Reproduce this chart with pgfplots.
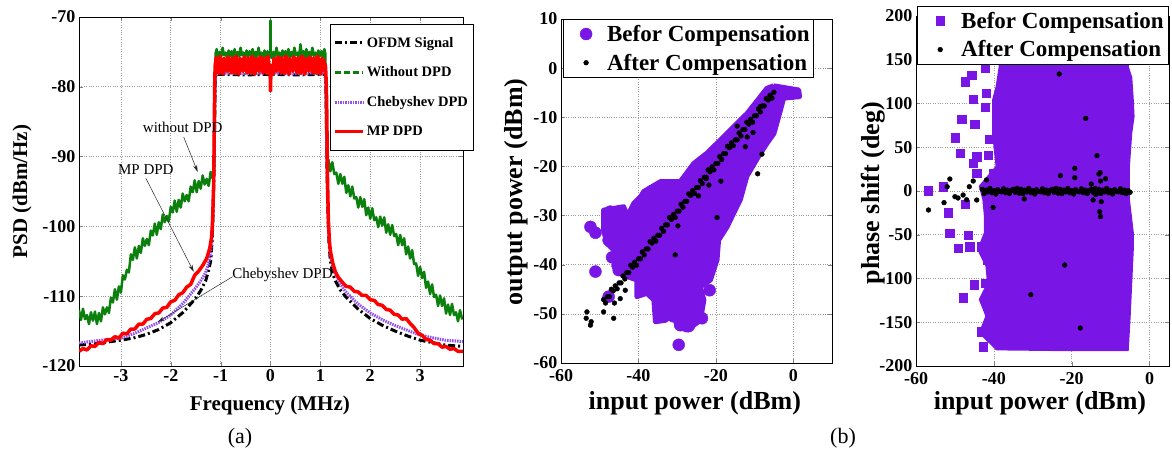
\documentclass[border=0pt]{standalone}
\usepackage{fontspec}
\setmainfont{Liberation Serif}
\usepackage{pgfplots}
\pgfplotsset{compat=1.18}
\usetikzlibrary{arrows.meta}

\definecolor{mgreen}{RGB}{12,128,12}
\definecolor{cheb}{RGB}{145,80,240}
\definecolor{scpurple}{RGB}{121,22,230}

\pgfplotsset{
  myaxis/.style={
    scale only axis,
    grid=major,
    major grid style={dotted, gray!80, line width=0.7pt},
    tick align=inside,
    major tick length=4pt,
    axis line style={line width=0.7pt},
    /pgf/number format/assume math mode=true,
    ticklabel style={font=\fontsize{18}{18}\selectfont\bfseries},
    legend cell align=left,
  },
  scatlegend/.style={
    legend style={font=\fontsize{23}{23}\selectfont\bfseries, row sep=7pt,
      inner xsep=2pt, inner ysep=4pt, draw=black},
    xticklabel style={yshift=-3pt},
  },
  legmark/.style={
    legend image code/.code={\path[draw=none,fill=none] (0pt,0pt) -- (40pt,0pt);
      \draw[##1] plot coordinates {(21pt,0pt)};},
  },
}

\begin{document}
\begin{tikzpicture}
\path[use as bounding box] (0,0) rectangle (1172pt,454pt);

% ---------------- (a) PSD ----------------
\begin{axis}[myaxis,
    at={(79pt,88pt)}, anchor=south west,
    width=384pt, height=349pt,
    xmin=-3.84, xmax=3.86, ymin=-120, ymax=-70,
    xtick={-3,-2,-1,0,1,2,3},
    ytick={-120,-110,-100,-90,-80,-70},
    xlabel={Frequency (MHz)}, ylabel={PSD (dBm/Hz)},
    xlabel style={font=\fontsize{21}{21}\selectfont\bfseries, at={(rel axis cs:0.497,-0.112)}, anchor=center},
    ylabel style={font=\fontsize{21}{21}\selectfont\bfseries, at={(rel axis cs:-0.148,0.5)}, anchor=center},
    legend style={at={(rel axis cs:0.654,0.98)}, anchor=north west,
      font=\fontsize{14.5}{14.5}\selectfont\bfseries, row sep=14pt,
      inner xsep=3pt, inner ysep=11pt, draw=black},
    legend image code/.code={\draw[#1] (0pt,0pt) -- (28pt,0pt);},
  ]
\addplot[black, line width=3pt, dash pattern=on 7pt off 3pt on 2pt off 3pt] coordinates {
(-3.84,-117.0) (-3.5,-116.8) (-3.0,-116.3) (-2.75,-116.0) (-2.5,-115.5) (-2.25,-114.8)
(-2.0,-113.8) (-1.75,-112.3) (-1.5,-110.3) (-1.4,-109.2) (-1.3,-107.8) (-1.25,-106.5)
(-1.2,-105) (-1.17,-102) (-1.15,-98) (-1.13,-91) (-1.12,-85) (-1.11,-80) (-1.10,-78.2)
(-0.5,-78.3) (0,-78.2) (0.5,-78.3) (1.10,-78.2) (1.11,-80) (1.12,-85) (1.13,-91)
(1.15,-98) (1.17,-102) (1.2,-105) (1.25,-106.8) (1.3,-107.8) (1.4,-109.1) (1.5,-110.0)
(1.75,-111.8) (2.0,-113.2) (2.25,-114.2) (2.5,-115.0) (2.75,-115.7) (3.0,-116.3)
(3.5,-117.0) (3.86,-117.2)
};
\addlegendentry{OFDM Signal}
\addplot[mgreen, line width=2.5pt, line join=round, forget plot] coordinates {
(-3.84,-112.0) (-3.80,-113.4) (-3.76,-111.8) (-3.72,-113.3) (-3.68,-112.7) (-3.64,-114.0)
(-3.60,-112.3) (-3.56,-113.5) (-3.52,-112.2) (-3.48,-114.0) (-3.44,-112.4) (-3.40,-113.6)
(-3.36,-111.6) (-3.32,-112.6) (-3.28,-111.6) (-3.24,-112.4) (-3.20,-110.2) (-3.16,-110.9)
(-3.12,-109.0) (-3.08,-110.5) (-3.04,-108.6) (-3.00,-109.5) (-2.96,-107.0) (-2.92,-107.6)
(-2.88,-106.2) (-2.84,-106.6) (-2.80,-104.0) (-2.76,-104.8) (-2.72,-103.0) (-2.68,-104.6)
(-2.64,-102.8) (-2.60,-103.8) (-2.56,-101.7) (-2.52,-102.8) (-2.48,-101.8) (-2.44,-102.7)
(-2.40,-100.6) (-2.36,-101.3) (-2.32,-99.6) (-2.28,-101.2) (-2.24,-99.4) (-2.20,-100.4)
(-2.16,-98.3) (-2.12,-99.4) (-2.08,-98.5) (-2.04,-99.3) (-2.00,-97.2) (-1.96,-98.0)
(-1.92,-96.3) (-1.88,-97.9) (-1.84,-96.2) (-1.80,-97.3) (-1.76,-95.3) (-1.72,-96.4)
(-1.68,-95.5) (-1.64,-96.4) (-1.60,-94.3) (-1.56,-95.1) (-1.52,-93.4) (-1.48,-95.1)
(-1.44,-93.5) (-1.40,-94.6) (-1.36,-92.7) (-1.32,-94.0) (-1.28,-93.2) (-1.24,-94.2)
(-1.20,-92.2) (-1.16,-93.1) (-1.13,-92.6) (-1.12,-86) (-1.11,-78) (-1.10,-75.2)
(-1.08,-74.6) (-1.05,-75.9) (-1.02,-75.0) (-0.99,-75.7) (-0.96,-74.4) (-0.93,-75.5)
(-0.90,-75.1) (-0.87,-76.0) (-0.84,-74.8) (-0.81,-75.6) (-0.78,-74.9) (-0.75,-75.8)
(-0.72,-74.6) (-0.69,-75.9) (-0.66,-75.0) (-0.63,-75.7) (-0.60,-74.4) (-0.57,-75.5)
(-0.54,-75.1) (-0.51,-76.0) (-0.48,-74.8) (-0.45,-75.6) (-0.42,-74.9) (-0.39,-75.8)
(-0.36,-74.6) (-0.33,-75.9) (-0.30,-75.0) (-0.27,-75.7) (-0.24,-74.4) (-0.21,-75.5)
(-0.18,-75.1) (-0.15,-76.0) (-0.12,-74.8) (-0.09,-75.6) (-0.06,-74.9) (-0.03,-75.8)
(-0.005,-75.3) (0,-70.5) (0.005,-75.3)
(0.03,-75.9) (0.06,-75.0) (0.09,-75.7) (0.12,-74.4) (0.15,-75.5) (0.18,-75.1)
(0.21,-76.0) (0.24,-74.8) (0.27,-75.6) (0.30,-74.9) (0.33,-75.8) (0.36,-74.6)
(0.39,-75.9) (0.42,-75.0) (0.45,-75.7) (0.48,-74.4) (0.51,-75.5) (0.54,-75.1)
(0.57,-76.0) (0.60,-73.9) (0.63,-75.6) (0.66,-74.9) (0.69,-75.8) (0.72,-74.6)
(0.75,-75.9) (0.78,-75.0) (0.81,-75.7) (0.84,-74.4) (0.87,-75.5) (0.90,-75.1)
(0.93,-76.0) (0.96,-74.8) (0.99,-75.6) (1.02,-74.9) (1.05,-75.8) (1.08,-74.6)
(1.10,-75.3) (1.11,-80) (1.12,-88) (1.13,-90.4)
(1.16,-90.4) (1.20,-92.1) (1.24,-90.8) (1.28,-92.5) (1.32,-92.3) (1.36,-93.9)
(1.40,-92.5) (1.44,-93.9) (1.48,-92.9) (1.52,-95.2) (1.56,-94.1) (1.60,-95.7)
(1.64,-94.3) (1.68,-96.0) (1.72,-95.8) (1.76,-97.3) (1.80,-95.8) (1.84,-97.2)
(1.88,-96.1) (1.92,-98.4) (1.96,-97.3) (2.00,-98.9) (2.04,-97.4) (2.08,-99.1)
(2.12,-98.7) (2.16,-100.1) (2.20,-98.6) (2.24,-99.9) (2.28,-98.7) (2.32,-100.9)
(2.36,-99.7) (2.40,-101.2) (2.44,-99.8) (2.48,-101.4) (2.52,-101.1) (2.56,-102.7)
(2.60,-101.2) (2.64,-102.7) (2.68,-101.7) (2.72,-104.0) (2.76,-102.9) (2.80,-104.6)
(2.84,-103.4) (2.88,-105.4) (2.92,-105.3) (2.96,-107.1) (3.00,-105.8) (3.04,-107.4)
(3.08,-106.5) (3.12,-108.8) (3.16,-107.9) (3.20,-109.7) (3.24,-108.3) (3.28,-110.1)
(3.32,-109.8) (3.36,-111.4) (3.40,-109.9) (3.44,-111.4) (3.48,-110.3) (3.52,-112.5)
(3.56,-111.2) (3.60,-112.7) (3.64,-111.1) (3.68,-112.7) (3.72,-112.3) (3.76,-113.6)
(3.80,-112.0) (3.84,-113.2) (3.86,-113.0)
};
\addlegendimage{mgreen, line width=2.5pt, dash pattern=on 6pt off 3pt}
\addlegendentry{Without DPD}
\addplot[cheb, line width=3pt, dash pattern=on 1.5pt off 1pt] coordinates {
(-3.84,-116.7) (-3.5,-116.4) (-3.0,-116.0) (-2.75,-115.4) (-2.5,-114.6) (-2.25,-113.8)
(-2.0,-112.7) (-1.75,-111.0) (-1.5,-108.8) (-1.4,-107.8) (-1.3,-106.6) (-1.25,-105.5)
(-1.2,-104) (-1.17,-101) (-1.15,-97) (-1.13,-90) (-1.12,-84) (-1.11,-79.5) (-1.10,-78.0)
(-0.5,-78.1) (0,-78.0) (0.5,-78.1) (1.10,-78.0) (1.11,-79.5) (1.12,-84) (1.13,-90)
(1.15,-97) (1.17,-101) (1.2,-104) (1.25,-105.7) (1.3,-106.8) (1.4,-108.2) (1.5,-109.3)
(1.75,-111.1) (2.0,-112.4) (2.25,-113.4) (2.5,-114.2) (2.75,-114.9) (3.0,-115.6)
(3.5,-116.3) (3.86,-116.5)
};
\addlegendentry{Chebyshev DPD}
\addplot[red, line width=3.5pt, line join=round] coordinates {
(-3.84,-117.9) (-3.76,-117.5) (-3.68,-117.7) (-3.60,-117.1) (-3.52,-117.2) (-3.44,-116.6)
(-3.36,-116.8) (-3.28,-116.2) (-3.20,-116.3) (-3.12,-115.8) (-3.04,-116.0) (-2.96,-115.3)
(-2.88,-115.4) (-2.80,-114.7) (-2.72,-114.7) (-2.64,-114.0) (-2.56,-114.0) (-2.48,-113.3)
(-2.40,-113.2) (-2.32,-112.5) (-2.24,-112.4) (-2.16,-111.7) (-2.08,-111.6) (-2.00,-110.8)
(-1.92,-110.6) (-1.84,-109.8) (-1.76,-109.5) (-1.68,-108.7) (-1.60,-108.3) (-1.52,-107.0)
(-1.44,-106.4) (-1.36,-105.6) (-1.28,-104.6) (-1.22,-103.2) (-1.18,-101.5) (-1.16,-99)
(-1.14,-94) (-1.13,-88) (-1.12,-80) (-1.11,-77) (-1.10,-76.4)
(-1.09,-75.8) (-1.07,-77.9) (-1.05,-76.4) (-1.03,-78.1) (-1.01,-75.6) (-0.99,-77.2)
(-0.97,-76.9) (-0.95,-78.2) (-0.93,-75.9) (-0.91,-77.6) (-0.89,-76.2) (-0.87,-77.8)
(-0.85,-75.7) (-0.83,-77.0) (-0.81,-76.6) (-0.79,-78.0) (-0.77,-75.8) (-0.75,-77.9)
(-0.73,-76.4) (-0.71,-78.1) (-0.69,-75.6) (-0.67,-77.2) (-0.65,-76.9) (-0.63,-78.2)
(-0.61,-75.9) (-0.59,-77.6) (-0.57,-76.2) (-0.55,-77.8) (-0.53,-75.7) (-0.51,-77.0)
(-0.49,-76.6) (-0.47,-78.0) (-0.45,-75.8) (-0.43,-77.9) (-0.41,-76.4) (-0.39,-78.1)
(-0.37,-75.6) (-0.35,-77.2) (-0.33,-76.9) (-0.31,-78.2) (-0.29,-75.9) (-0.27,-77.6)
(-0.25,-76.2) (-0.23,-77.8) (-0.21,-75.7) (-0.19,-77.0) (-0.17,-76.6) (-0.15,-78.0)
(-0.13,-75.8) (-0.11,-77.9) (-0.09,-76.4) (-0.07,-78.1) (-0.05,-75.6) (-0.03,-77.2)
(-0.01,-76.9) (0.00,-80.6) (0.01,-77.2) (0.03,-76.9) (0.05,-78.2) (0.07,-75.9)
(0.09,-77.6) (0.11,-76.2) (0.13,-77.8) (0.15,-75.7) (0.17,-77.0) (0.19,-76.6)
(0.21,-78.0) (0.23,-75.8) (0.25,-77.9) (0.27,-76.4) (0.29,-78.1) (0.31,-75.6)
(0.33,-77.2) (0.35,-76.9) (0.37,-78.2) (0.39,-75.9) (0.41,-77.6) (0.43,-76.2)
(0.45,-77.8) (0.47,-75.7) (0.49,-77.0) (0.51,-76.6) (0.53,-78.0) (0.55,-75.8)
(0.57,-77.9) (0.59,-76.4) (0.61,-78.1) (0.63,-75.6) (0.65,-77.2) (0.67,-76.9)
(0.69,-78.2) (0.71,-75.9) (0.73,-77.6) (0.75,-76.2) (0.77,-77.8) (0.79,-75.7)
(0.81,-77.0) (0.83,-76.6) (0.85,-78.0) (0.87,-75.8) (0.89,-77.9) (0.91,-76.4)
(0.93,-78.1) (0.95,-75.6) (0.97,-77.2) (0.99,-76.9) (1.01,-78.2) (1.03,-75.9)
(1.05,-77.6) (1.07,-76.2) (1.09,-77.8) (1.10,-76.8)
(1.11,-78) (1.12,-80) (1.13,-84) (1.14,-92) (1.16,-99) (1.18,-102) (1.20,-103.5)
(1.25,-105.3) (1.30,-106.5) (1.36,-107.3) (1.44,-108.0) (1.52,-108.6) (1.60,-108.7)
(1.68,-109.3) (1.76,-109.4) (1.84,-109.9) (1.92,-109.9) (2.00,-110.5) (2.08,-110.6)
(2.16,-111.2) (2.24,-111.3) (2.32,-111.9) (2.40,-112.0) (2.48,-112.6) (2.56,-112.7)
(2.64,-113.3) (2.72,-113.2) (2.80,-113.9) (2.88,-114.5) (2.96,-115.3) (3.04,-115.6)
(3.12,-116.2) (3.20,-116.3) (3.28,-116.8) (3.36,-116.8) (3.44,-117.3) (3.52,-117.2)
(3.60,-117.6) (3.68,-117.5) (3.76,-117.9) (3.86,-117.9)
};
\addlegendentry{MP DPD}
% annotations
\node[font=\fontsize{15}{15}\selectfont] at (axis cs:-1.76,-85.8) {without DPD};
\node[font=\fontsize{15}{15}\selectfont] at (axis cs:-2.5,-91.9) {MP DPD};
\node[font=\fontsize{15}{15}\selectfont] at (axis cs:0.24,-107.0) {Chebyshev DPD};
\draw[gray!30!black, line width=0.5pt, -{Stealth[length=7pt,width=4pt]}] (axis cs:-1.74,-87.2) -- (axis cs:-1.46,-92.2);
\draw[gray!30!black, line width=0.5pt, -{Stealth[length=7pt,width=4pt]}] (axis cs:-2.5,-93.1) -- (axis cs:-1.54,-106.5);
\draw[gray!30!black, line width=0.5pt, -{Stealth[length=7pt,width=4pt]}] (axis cs:-0.76,-107.2) -- (axis cs:-2.26,-113.7);
\end{axis}

% ---------------- (b) AM/AM ----------------
\begin{axis}[myaxis, scatlegend,
    at={(561pt,91pt)}, anchor=south west,
    width=271pt, height=344pt,
    xmin=-60, xmax=10, ymin=-60, ymax=10,
    xtick={-60,-40,-20,0},
    ytick={-60,-50,-40,-30,-20,-10,0,10},
    xlabel={input power (dBm)}, ylabel={output power (dBm)},
    xlabel style={font=\fontsize{26}{26}\selectfont\bfseries, at={(rel axis cs:0.494,-0.116)}, anchor=center},
    ylabel style={font=\fontsize{26}{26}\selectfont\bfseries, at={(rel axis cs:-0.166,0.497)}, anchor=center},
    legend style={at={(rel axis cs:0.007,1)}, anchor=north west},
  ]
\addplot[scpurple, fill=scpurple, draw=scpurple, line width=5pt, line join=round, forget plot] coordinates {
(-5.05,-3.6) (1.4,-4.45) (1.6,-5.8) (-2.5,-6.1) (-3.3,-8.5) (-5.0,-13.3) (-6.8,-15.3)
(-9,-18) (-12,-22) (-13.7,-26.8) (-15.4,-29.5) (-17.1,-32.3) (-19.3,-35) (-19.7,-39)
(-21.4,-43.1) (-24,-44.5) (-23.1,-47.2) (-24,-51.3) (-27.4,-53.3) (-30,-52.6)
(-30.9,-49.9) (-33,-51.3) (-35.6,-51.6) (-36,-47.2) (-37.8,-45.8) (-40.4,-46.5)
(-40.4,-43.1) (-42.9,-42.4) (-46.4,-40.4) (-45.5,-37.7) (-48.1,-35.7) (-49,-33)
(-49,-28.9) (-43.8,-28.2) (-42.9,-30.2) (-41.2,-27.5) (-39.5,-26.2) (-38.6,-25.1)
(-34.3,-23.1) (-29.2,-23.1) (-25.7,-19.4) (-22.3,-17.3) (-18.8,-14.6) (-15.4,-11.9)
(-11.9,-9.2) (-8.5,-5.8) (-6.8,-4.1) (-5.05,-3.6)
};
\addplot[only marks, mark=*, mark size=6pt, scpurple, legmark] coordinates {
(-52.4,-32.3) (-51.1,-33.5) (-51.1,-41.4) (-47.3,-29.2) (-44.7,-29.2) (-47.7,-35)
(-45.1,-41.1) (-47.7,-46.5) (-39.1,-45.2) (-34.3,-47.5) (-33.9,-50.6) (-29.2,-52.3)
(-29.6,-56.3) (-23.6,-50.9) (-21.6,-45.2) (-25.1,-48.5) (-39.9,-28.5) (-44.7,-30.9)
(-46.8,-38.5) (-42.5,-36) (-36.5,-25) (-27,-52.5) (-31,-50.5)
};
\addlegendentry{Befor Compensation}
\addplot[only marks, mark=*, mark size=2.4pt, black, legmark] coordinates {
(-49,-47.1) (-48.5,-47.8) (-48,-46.5) (-47.5,-46.5) (-47,-45.0) (-46.5,-45.3) (-46,-44.3)
(-45.5,-44.9) (-45,-43.7) (-44.5,-43.7) (-44,-42.3) (-43.5,-42.9) (-43,-41.6) (-42.5,-41.6)
(-42,-40.1) (-41.5,-40.5) (-41,-39.5) (-40.5,-40.1) (-40,-38.8) (-39.5,-38.8) (-39,-37.4)
(-38.5,-38.0) (-38,-36.8) (-37.5,-36.8) (-37,-35.3) (-36.5,-35.6) (-36,-34.6) (-35.5,-35.2)
(-35,-34.0) (-34.5,-34.0) (-34,-32.6) (-33.5,-33.2) (-33,-31.9) (-32.5,-31.9) (-32,-30.4)
(-31.5,-30.8) (-31,-29.8) (-30.5,-30.4) (-30,-29.1) (-29.5,-29.1) (-29,-27.7) (-28.5,-28.3)
(-28,-27.1) (-27.5,-27.1) (-27,-25.6) (-26.5,-25.9) (-26,-24.9) (-25.5,-25.5) (-25,-24.3)
(-24.5,-24.3) (-24,-22.9) (-23.5,-23.5) (-23,-22.2) (-22.5,-22.2) (-22,-20.7) (-21.5,-21.1)
(-21,-20.1) (-20.5,-20.7) (-20,-19.4) (-19.5,-19.4) (-19,-18.0) (-18.5,-18.6) (-18,-17.4)
(-17.5,-17.4) (-17,-15.9) (-16.5,-16.2) (-16,-15.2) (-15.5,-15.8) (-15,-14.6) (-14.5,-14.6)
(-14,-13.2) (-13.5,-13.8) (-13,-12.5) (-12.5,-12.5) (-12,-11.0) (-11.5,-11.4) (-11,-10.4)
(-10.5,-11.0) (-10,-9.7) (-9.5,-9.7) (-9,-8.3) (-8.5,-8.9) (-8,-7.7) (-7.5,-7.7)
(-7,-6.2) (-6.5,-6.5) (-6,-5.5) (-5.5,-6.1) (-5,-4.9)
(-53.3,-49.6) (-53.5,-50.9) (-52.4,-52.3) (-52.2,-51.6) (-49,-49.6) (-46.4,-50.9)
(-44.7,-46.9) (-43.4,-45.2) (-46.2,-47.8) (-29.8,-32.1) (-30.5,-38) (-19.7,-30.4)
(-18.7,-23) (-21.8,-23.8) (-12.4,-16) (-8.1,-17.5) (-9.2,-21.5) (-10.4,-13.1)
(-11.9,-14) (-8.5,-7.8) (-14.5,-11.8) (-22.5,-22.5) (-24.5,-26)
};
\addlegendentry{After Compensation}
\end{axis}

% ---------------- (b) AM/PM ----------------
\begin{axis}[myaxis, scatlegend,
    at={(916pt,88pt)}, anchor=south west,
    width=253pt, height=350pt,
    xmin=-60, xmax=5, ymin=-200, ymax=200,
    xtick={-60,-40,-20,0},
    ytick={-200,-150,-100,-50,0,50,100,150,200},
    xlabel={input power (dBm)}, ylabel={phase shift (deg)},
    xlabel style={font=\fontsize{26}{26}\selectfont\bfseries, at={(rel axis cs:0.49,-0.106)}, anchor=center},
    ylabel style={font=\fontsize{26}{26}\selectfont\bfseries, at={(rel axis cs:-0.17,0.494)}, anchor=center},
    legend style={at={(rel axis cs:0.004,1.029)}, anchor=north west},
  ]
\addplot[scpurple, fill=scpurple, draw=scpurple, line width=2pt, line join=round, forget plot] coordinates {
(-38.5,180) (-38.5,142) (-39.3,119) (-40.2,104) (-40.2,66) (-39.3,28) (-43.6,5.5)
(-42.7,-9.7) (-42.3,-28.8) (-42.3,-47.8) (-44,-66.9) (-41.9,-85.9) (-41.5,-105)
(-43.6,-124) (-41.9,-143) (-43.6,-162) (-39.3,-181) (-20,-182) (-5.6,-182)
(-5.1,-143) (-4.7,-105) (-4.3,-66.9) (-4.3,-47.8) (-5.3,-9.7) (-5.3,28) (-4.7,66)
(-4.1,85) (-4.3,104) (-4.7,130) (-5.6,142) (-5.6,180) (-38.5,180)
};
\addplot[only marks, mark=square*, mark size=4.2pt, scpurple, legmark] coordinates {
(-56.8,0.4) (-53,4.9) (-51.7,-24.8) (-51.3,-48.4) (-50,61) (-49.1,-65.5) (-48.7,43)
(-47.9,-122) (-48.3,82) (-47.4,125) (-47.4,-14.9) (-46.6,-50.3) (-46.2,-63.6)
(-45.7,132.6) (-45.3,104.8) (-45.3,31.6) (-44.9,76.6) (-45.1,-107) (-44.4,39.2)
(-44.4,20) (-43.2,-63.6) (-42.7,-178) (-42.3,140) (-42.3,96) (-41.9,111.6)
(-41.2,59) (-41.5,41) (-42.3,-105.5) (-43.2,-160.8) (-41.7,-78.9) (-40.2,20)
};
\addlegendentry{Befor Compensation}
\addplot[only marks, mark=*, mark size=2.4pt, black, legmark] coordinates {
(-43,2) (-42.5,-3) (-42,1) (-41.5,-1) (-41,3) (-40.5,-2) (-40,0.5) (-39.5,-3.5)
(-39,1.5) (-38.5,-0.5) (-38,-1) (-37.5,2.5) (-37,-2) (-36.5,1) (-36,-3) (-35.5,0.5)
(-35,2) (-34.5,-1.5) (-34,3) (-33.5,-2.5) (-33,2) (-32.5,-3) (-32,1) (-31.5,-1)
(-31,3) (-30.5,-2) (-30,0.5) (-29.5,-3.5) (-29,1.5) (-28.5,-0.5) (-28,-1) (-27.5,2.5)
(-27,-2) (-26.5,1) (-26,-3) (-25.5,0.5) (-25,2) (-24.5,-1.5) (-24,3) (-23.5,-2.5)
(-23,2) (-22.5,-3) (-22,1) (-21.5,-1) (-21,3) (-20.5,-2) (-20,0.5) (-19.5,-3.5)
(-19,1.5) (-18.5,-0.5) (-18,-1) (-17.5,2.5) (-17,-2) (-16.5,1) (-16,-3) (-15.5,0.5)
(-15,2) (-14.5,-1.5) (-14,3) (-13.5,-2.5) (-13,2) (-12.5,-3) (-12,1) (-11.5,-1)
(-11,3) (-10.5,-2) (-10,0.5) (-9.5,-3.5) (-9,1.5) (-8.5,-0.5) (-8,-1) (-7.5,2.5)
(-7,-2) (-6.5,1) (-6,-3) (-5.5,0.5) (-5,-1.5)
(-56.8,-21.7) (-52.8,-13.3) (-52,4.9) (-51.3,13.7) (-50,-6.5) (-49.2,-8) (-47.9,-4.6)
(-47,-10) (-46.3,4.9) (-45.3,11.4) (-44.4,-10.3) (-41.9,12.6) (-40.2,-18.7)
(-32.2,-9.1) (-30.5,-118.5) (-23.2,133.7) (-22.9,17.5) (-21.8,-84.6) (-19.2,25.9)
(-19.2,15.2) (-17.8,-156.6) (-16.4,83) (-13.5,40.4) (-13,19.4) (-12.7,21) (-12.6,11.4)
(-11.3,14) (-12.8,-23.6) (-12.6,-29.3) (-12.4,-12.2) (-14.5,-10.3) (-15,8) (-13.8,-4)
};
\addlegendentry{After Compensation}
\end{axis}

\node[font=\fontsize{22}{22}\selectfont] at (240pt,16pt) {(a)};
\node[font=\fontsize{22}{22}\selectfont] at (843pt,16pt) {(b)};
\end{tikzpicture}
\end{document}
